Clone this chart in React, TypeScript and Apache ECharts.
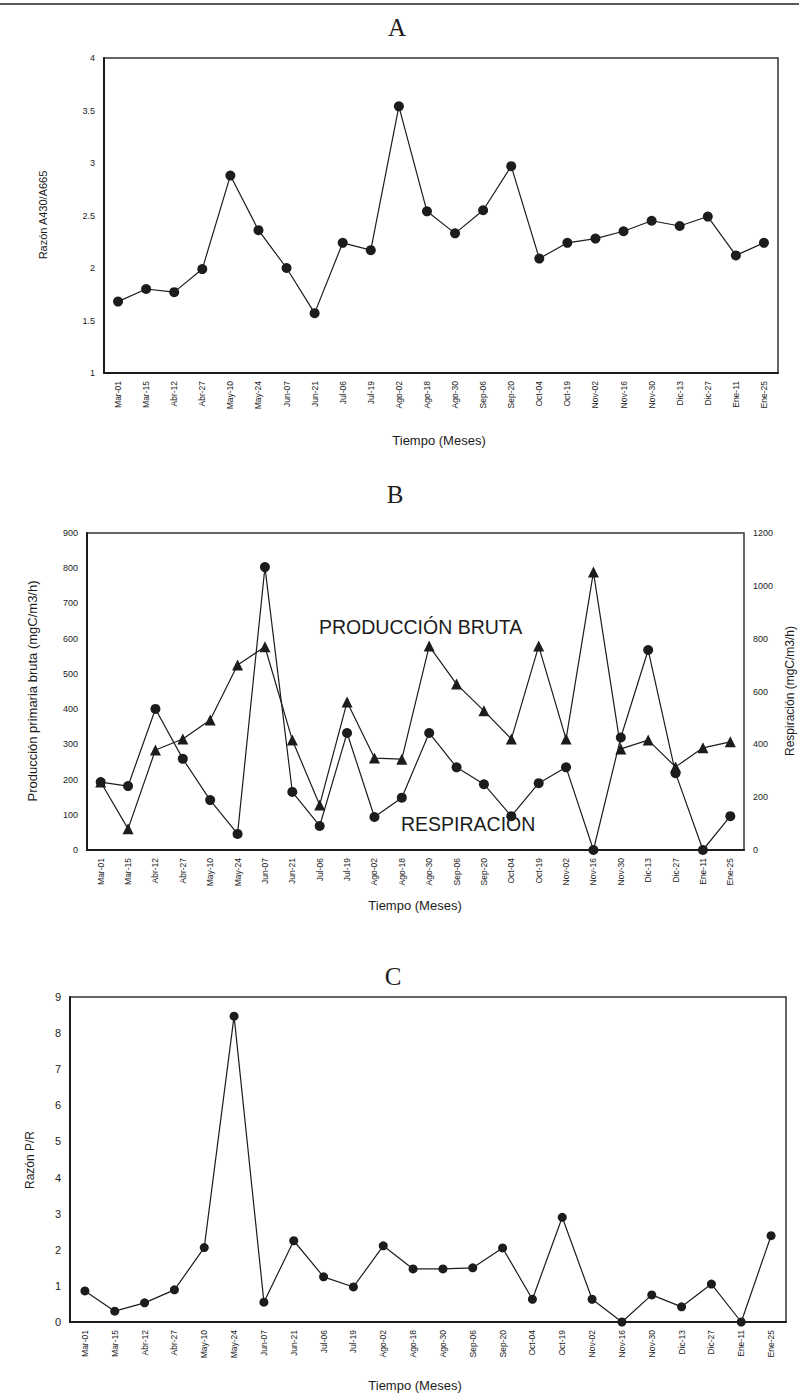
import React, { useEffect, useRef } from "react";
import * as echarts from "echarts";

// ---------- data ----------
const categories = [
  "Mar-01", "Mar-15", "Abr-12", "Abr-27", "May-10", "May-24", "Jun-07", "Jun-21",
  "Jul-06", "Jul-19", "Ago-02", "Ago-18", "Ago-30", "Sep-06", "Sep-20", "Oct-04",
  "Oct-19", "Nov-02", "Nov-16", "Nov-30", "Dic-13", "Dic-27", "Ene-11", "Ene-25",
];

// Panel A: Razón A430/A665
const razonA430A665 = [
  1.68, 1.8, 1.77, 1.99, 2.88, 2.36, 2.0, 1.57, 2.24, 2.17, 3.54, 2.54,
  2.33, 2.55, 2.97, 2.09, 2.24, 2.28, 2.35, 2.45, 2.4, 2.49, 2.12, 2.24,
];

// Panel B: Producción primaria bruta (left axis, mgC/m3/h)
const produccionBruta = [
  193, 60, 284, 315, 369, 525, 577, 312, 128, 420, 261, 258,
  579, 471, 395, 315, 579, 315, 789, 287, 312, 236, 290, 307,
];

// Panel B: Respiración (right axis, mgC/m3/h)
const respiracion = [
  257, 242, 534, 345, 189, 61, 1071, 220, 91, 443, 125, 198,
  443, 313, 249, 128, 253, 313, 0, 426, 757, 291, 0, 128,
];

// Panel C: Razón P/R
const razonPR = [
  0.86, 0.3, 0.53, 0.89, 2.06, 8.47, 0.55, 2.25, 1.25, 0.97, 2.11, 1.47,
  1.47, 1.5, 2.05, 0.63, 2.9, 0.63, 0, 0.75, 0.42, 1.05, 0, 2.39,
];

// ---------- styling ----------
const FONT = "'Liberation Sans', Arial, Helvetica, sans-serif";
const SERIF = "'Liberation Serif', 'Times New Roman', serif";
const INK = "#1c1c1c";

const catAxis = (gridIndex: number) => ({
  type: "category",
  gridIndex,
  data: categories,
  boundaryGap: true,
  axisLine: { show: true, onZero: false, lineStyle: { color: INK, width: 2 } },
  axisTick: { show: false },
  axisLabel: {
    rotate: 90,
    interval: 0,
    fontSize: 8.5,
    fontFamily: FONT,
    color: INK,
    margin: 8,
  },
  splitLine: { show: false },
});

const valAxis = (
  gridIndex: number,
  min: number,
  max: number,
  interval: number,
  fontSize: number,
  position: "left" | "right" = "left",
  lineShow = true
) => ({
  type: "value",
  gridIndex,
  min,
  max,
  interval,
  position,
  axisLine: { show: lineShow, lineStyle: { color: INK, width: 2 } },
  axisTick: { show: false },
  axisLabel: {
    fontSize,
    fontFamily: FONT,
    color: INK,
    margin: 9,
    formatter: (v: number) => String(v),
  },
  splitLine: { show: false },
});

const lineSeries = (
  data: number[],
  xAxisIndex: number,
  yAxisIndex: number,
  symbol: string,
  symbolSize: number
) => ({
  type: "line",
  data,
  xAxisIndex,
  yAxisIndex,
  symbol,
  symbolSize,
  showAllSymbol: true,
  itemStyle: { color: INK },
  lineStyle: { color: INK, width: 1.2 },
  z: 3,
});

const text = (
  str: string,
  x: number,
  y: number,
  fontSize: number,
  opts: { rotation?: number; align?: string; family?: string } = {}
) => ({
  type: "text",
  x,
  y,
  rotation: opts.rotation ?? 0,
  silent: true,
  style: {
    text: str,
    fill: INK,
    fontSize,
    fontFamily: opts.family ?? FONT,
    align: opts.align ?? "center",
    verticalAlign: "middle",
  },
});

export default function App() {
  const ref = useRef<HTMLDivElement>(null);

  useEffect(() => {
    if (!ref.current) return;
    const chart = echarts.init(ref.current, undefined, { renderer: "svg" });

    const gridStyle = {
      show: true,
      borderColor: "#333",
      borderWidth: 1.5,
      backgroundColor: "transparent",
      containLabel: false,
    };

    chart.setOption({
      animation: false,
      backgroundColor: "#ffffff",
      grid: [
        { ...gridStyle, left: 104, top: 58, width: 674, height: 315 },
        { ...gridStyle, left: 87, top: 533, width: 657, height: 317 },
        { ...gridStyle, left: 70, top: 997, width: 716, height: 325 },
      ],
      xAxis: [catAxis(0), catAxis(1), catAxis(2)],
      yAxis: [
        valAxis(0, 1, 4, 0.5, 9),
        valAxis(1, 0, 900, 100, 9),
        valAxis(1, 0, 1200, 200, 9, "right", false),
        valAxis(2, 0, 9, 1, 11),
      ],
      series: [
        lineSeries(razonA430A665, 0, 0, "circle", 10),
        lineSeries(respiracion, 1, 2, "circle", 10),
        lineSeries(produccionBruta, 1, 1, "triangle", 11),
        lineSeries(razonPR, 2, 3, "circle", 9),
      ],
      graphic: [
        {
          type: "line",
          silent: true,
          shape: { x1: 0, y1: 4, x2: 799, y2: 4 },
          style: { stroke: "#222", lineWidth: 1.5 },
        },
        // panel titles
        text("A", 397, 27, 25, { family: SERIF }),
        text("B", 395, 494, 25, { family: SERIF }),
        text("C", 393, 976, 25, { family: SERIF }),
        // panel A axis names
        text("Razón A430/A665", 43, 215, 11, { rotation: Math.PI / 2 }),
        text("Tiempo (Meses)", 439, 440, 13),
        // panel B axis names
        text("Producción primaria bruta (mgC/m3/h)", 32, 691, 13, { rotation: Math.PI / 2 }),
        text("Respiración (mgC/m3/h)", 790, 691, 12, { rotation: Math.PI / 2 }),
        text("Tiempo (Meses)", 415, 905, 13),
        // panel B annotations
        text("PRODUCCIÓN BRUTA", 319, 627, 19.5, { align: "left" }),
        text("RESPIRACION", 401, 824, 19.5, { align: "left" }),
        // panel C axis names
        text("Razón P/R", 30, 1160, 12, { rotation: Math.PI / 2 }),
        text("Tiempo (Meses)", 415, 1385, 13),
      ],
    });

    return () => {
      chart.dispose();
    };
  }, []);

  return (
    <div
      ref={ref}
      style={{ position: "absolute", left: 0, top: 0, width: 799, height: 1397 }}
    />
  );
}
